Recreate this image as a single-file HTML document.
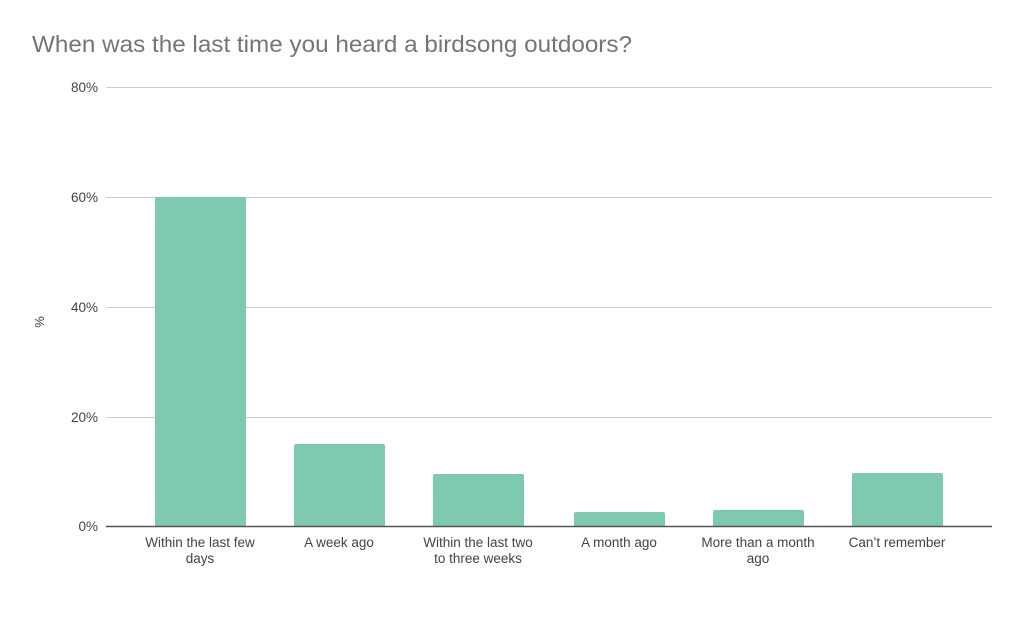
<!DOCTYPE html>
<html><head><meta charset="utf-8"><style>
body{margin:0;background:#fff;}
svg text{font-family:"Liberation Sans",sans-serif;}
</style></head><body>
<svg width="1024" height="637" viewBox="0 0 1024 637" xmlns="http://www.w3.org/2000/svg">
<rect width="1024" height="637" fill="#fff"/>
<text x="32" y="52" font-size="23" fill="#757575" textLength="600" lengthAdjust="spacingAndGlyphs">When was the last time you heard a birdsong outdoors?</text>
<g stroke="#cccccc" stroke-width="1">
<line x1="106" y1="87.5" x2="992" y2="87.5"/>
<line x1="106" y1="197.5" x2="992" y2="197.5"/>
<line x1="106" y1="307.5" x2="992" y2="307.5"/>
<line x1="106" y1="417.5" x2="992" y2="417.5"/>
</g>
<g font-size="13.5" fill="#444" text-anchor="end">
<text x="98" y="92">80%</text>
<text x="98" y="202">60%</text>
<text x="98" y="312">40%</text>
<text x="98" y="422">20%</text>
<text x="98" y="531">0%</text>
</g>
<text x="44" y="322" font-size="13" fill="#444" text-anchor="middle" transform="rotate(-90 44 322)">%</text>
<g fill="#7fc9b3">
<rect x="155" y="197" width="91" height="330" rx="2"/>
<rect x="294" y="444" width="91" height="83" rx="2"/>
<rect x="433" y="474" width="91" height="53" rx="2"/>
<rect x="574" y="512" width="91" height="15" rx="2"/>
<rect x="713" y="510" width="91" height="17" rx="2"/>
<rect x="852" y="473" width="91" height="54" rx="2"/>
</g>
<line x1="106" y1="526.5" x2="992" y2="526.5" stroke="#555" stroke-width="1.5"/>
<g font-size="13.5" fill="#444" text-anchor="middle">
<text x="200" y="547">Within the last few</text>
<text x="200" y="563">days</text>
<text x="339" y="547">A week ago</text>
<text x="478" y="547">Within the last two</text>
<text x="478" y="563">to three weeks</text>
<text x="619" y="547">A month ago</text>
<text x="758" y="547">More than a month</text>
<text x="758" y="563">ago</text>
<text x="897" y="547">Can’t remember</text>
</g>
</svg>
</body></html>
